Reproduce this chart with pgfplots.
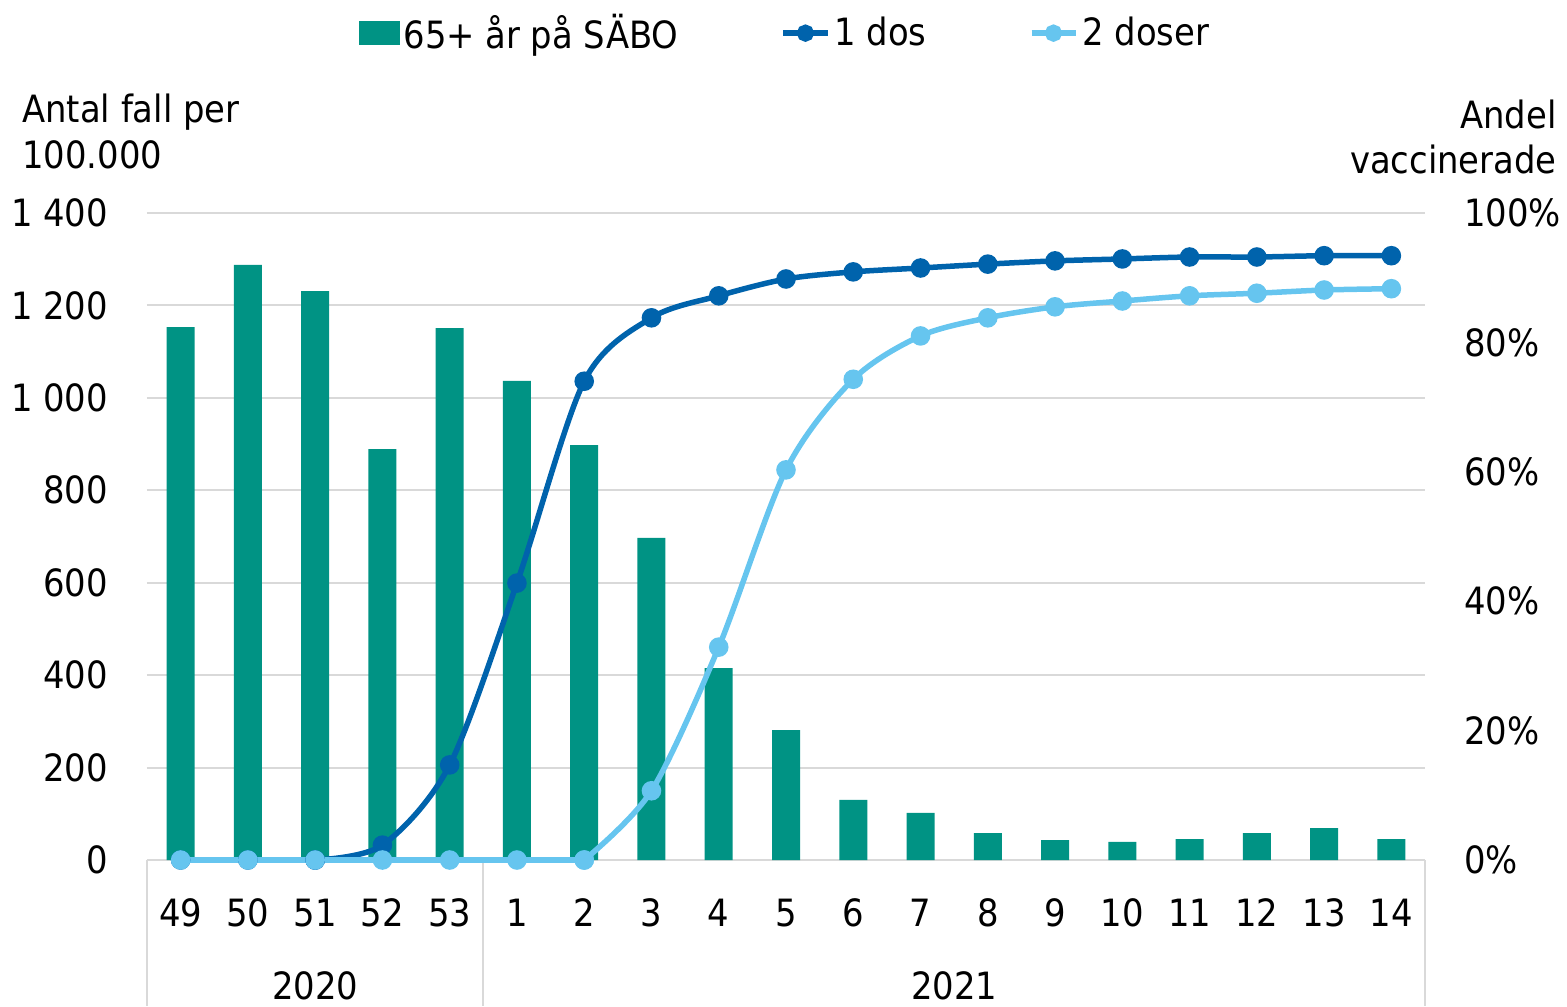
\documentclass[border=0pt]{standalone}
\usepackage{fontspec}
\setmainfont{DejaVu Sans Condensed}
\usepackage{pgfplots}
\usepackage{pgfplotstable}
\pgfplotsset{compat=1.18}
\definecolor{barc}{HTML}{009384}
\definecolor{dosa}{HTML}{0063AC}
\definecolor{dosb}{HTML}{66C5EF}
\definecolor{gridc}{HTML}{D9D9D9}
\newcommand\fsz{\fontsize{18.8}{23}\selectfont}
\pgfplotsset{dosleg/.style={legend image code/.code={%
  \draw[mark repeat=2,mark phase=2,##1,line width=3pt,mark size=2.8pt] plot coordinates {(0pt,0pt)(11pt,0pt)(22pt,0pt)};}},
  barleg/.style={legend image code/.code={\fill[barc] (0pt,-5.75pt) rectangle (20pt,5.75pt);}}}

% week index, cases per 100 000, share 1 dose, share 2 doses (%)
\pgfplotstableread{
x cases d1 d2
0 1153 0 0
1 1288 0 0
2 1231 0 0
3 889 2.3 0
4 1151 14.7 0
5 1037 42.8 0
6 898 74.0 0
7 697 83.8 10.7
8 415 87.2 32.9
9 281 89.8 60.3
10 130 90.9 74.3
11 102 91.5 81.0
12 58 92.1 83.8
13 43 92.6 85.5
14 39 92.9 86.4
15 45 93.2 87.2
16 58 93.2 87.6
17 69 93.4 88.1
18 45 93.4 88.3
}\data

\begin{document}
\begin{tikzpicture}[x=1pt,y=1pt,font=\fsz]
\path[use as bounding box] (0,0) rectangle (783.5,-503);

\begin{axis}[at={(73.5pt,-430pt)}, anchor=south west, scale only axis,
  width=639pt, height=323.5pt,
  xmin=-0.5, xmax=18.5, ymin=0, ymax=1400,
  axis line style={draw=none}, major tick length=0pt,
  ytick={0,200,...,1400}, yticklabels={0,200,400,600,800,1 000,1 200,1 400},
  xtick={0,...,18}, xticklabels={49,50,51,52,53,1,2,3,4,5,6,7,8,9,10,11,12,13,14},
  ymajorgrids, grid style={gridc, line width=1pt},
  tick label style={font=\fsz},
  yticklabel style={anchor=east, xshift=-16pt},
  xticklabel style={anchor=base, yshift=-33pt},
  clip=false]
\addplot[ybar, bar width=14pt, fill=barc, draw=none] table[x=x,y=cases]{\data};
\draw[gridc, line width=1pt] (axis cs:-0.5,0) -- ++(0pt,-73pt);
\draw[gridc, line width=1pt] (axis cs:4.5,0) -- ++(0pt,-73pt);
\draw[gridc, line width=1pt] (axis cs:18.5,0) -- ++(0pt,-73pt);
\node[anchor=base, inner sep=0pt, yshift=-69.5pt] at (axis cs:2,0) {2020};
\node[anchor=base, inner sep=0pt, yshift=-69.5pt] at (axis cs:11.5,0) {2021};
\end{axis}

\begin{axis}[at={(73.5pt,-430pt)}, anchor=south west, scale only axis,
  width=639pt, height=323.5pt,
  xmin=-0.5, xmax=18.5, ymin=0, ymax=100,
  axis y line*=right, axis x line=none,
  axis line style={draw=none}, major tick length=0pt,
  ytick={0,20,...,100}, yticklabels={0\%,20\%,40\%,60\%,80\%,100\%},
  tick label style={font=\fsz},
  yticklabel style={anchor=west, xshift=16pt},
  clip=false,
  legend columns=3,
  legend style={at={(0.5,1.278)}, anchor=center, draw=none, fill=none, font=\fsz,
    /tikz/every even column/.append style={column sep=49pt},
    nodes={inner xsep=2pt}},
  ]
\addlegendimage{barleg}
% 1 dos: flat start, then smoothed
\addplot[dosa, line width=2.75pt, mark=*, mark size=3.5pt, forget plot,
  restrict x to domain=0:2] table[x=x,y=d1]{\data};
\addplot[dosa, line width=2.75pt, smooth, mark=*, mark size=3.5pt, dosleg,
  restrict x to domain=2:18] table[x=x,y=d1]{\data};
% 2 doser: flat start, then smoothed
\addplot[dosb, line width=2.75pt, smooth, mark=*, mark size=3.5pt, dosleg,
  restrict x to domain=6:18] table[x=x,y=d2]{\data};
\addplot[dosb, line width=2.75pt, mark=*, mark size=3.5pt, forget plot,
  restrict x to domain=0:6] table[x=x,y=d2]{\data};
\legend{65+ år på SÄBO,1 dos,2 doser}
\end{axis}

\node[anchor=base west, inner sep=0pt] at (11,-61.5) {Antal fall per};
\node[anchor=base west, inner sep=0pt] at (11,-84) {100.000};
\node[anchor=base east, inner sep=0pt] at (778.5,-64) {Andel};
\node[anchor=base east, inner sep=0pt] at (778.5,-86.5) {vaccinerade};
\end{tikzpicture}
\end{document}
